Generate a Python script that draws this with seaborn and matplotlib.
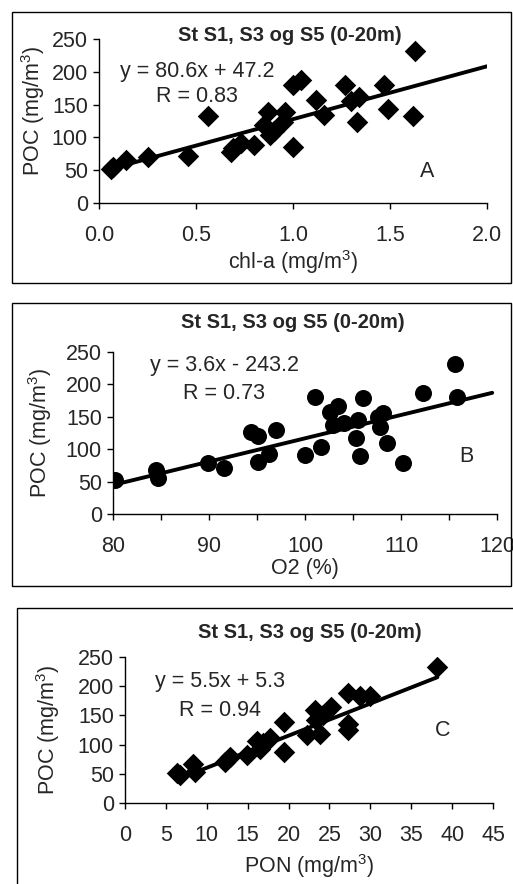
import numpy as np
import pandas as pd
import matplotlib
matplotlib.use("Agg")
import matplotlib.pyplot as plt
from matplotlib.patches import Rectangle
from matplotlib.ticker import MultipleLocator
import seaborn as sns

# ---------------------------
# Data
# ---------------------------
TITLE = "St S1, S3 og S5 (0-20m)"
POC_LABEL = "POC (mg/m$^3$)"

# Panel A: POC vs chl-a
chla_x = [0.06, 0.07, 0.14, 0.25, 0.46, 0.56, 0.68, 0.69, 0.73, 0.80, 0.85, 0.87,
          0.88, 0.90, 0.95, 0.96, 1.00, 1.00, 1.04, 1.12, 1.16, 1.27, 1.30, 1.33,
          1.34, 1.47, 1.49, 1.62, 1.63]
chla_poc = [52, 55, 66, 70, 72, 132, 77, 84, 91, 89, 119, 139,
            104, 109, 124, 139, 85, 180, 188, 157, 134, 180, 155, 124,
            162, 180, 144, 132, 231]
chla_fit = (80.6, 47.2)
chla_fit_x = [0.06, 2.0]

# Panel B: POC vs O2
o2_x = [80.2, 84.5, 84.7, 89.9, 91.6, 94.4, 95.1, 95.1, 96.3, 97.0, 100.0, 101.0,
        101.7, 102.6, 102.9, 103.4, 104.1, 105.3, 105.5, 105.7, 106.0, 107.6,
        107.8, 108.1, 108.5, 110.2, 112.3, 115.6, 115.8]
o2_poc = [53, 68, 55, 78, 71, 126, 120, 81, 93, 130, 91, 181,
          104, 158, 138, 166, 140, 117, 145, 89, 179, 150,
          135, 156, 110, 78, 187, 232, 180]
o2_fit = (3.6, -243.2)
o2_fit_x = [80.0, 119.5]

# Panel C: POC vs PON
pon_x = [6.3, 6.7, 8.3, 8.5, 12.2, 12.8, 14.9, 16.1, 16.5, 16.9, 17.7, 19.5,
         19.5, 22.2, 23.2, 23.4, 23.8, 24.2, 25.2, 27.3, 27.3, 27.3, 28.7,
         29.9, 38.1]
pon_poc = [52, 48, 66, 53, 70, 79, 82, 107, 93, 102, 111, 139,
           88, 116, 159, 142, 119, 151, 165, 188, 136, 125, 183,
           183, 233]
pon_fit = (5.5, 5.3)
pon_fit_x = [6.3, 38.2]

# ---------------------------
# Style
# ---------------------------
sns.set_theme(style="white")
plt.rcParams["font.family"] = ["Liberation Sans", "DejaVu Sans"]
plt.rcParams["mathtext.fontset"] = "custom"
plt.rcParams["mathtext.rm"] = "Liberation Sans"
plt.rcParams["mathtext.it"] = "Liberation Sans:italic"

FS = 15.5
W, H = 513, 884
fig = plt.figure(figsize=(W / 100, H / 100), dpi=100)


def px_axes(left, right, top, bottom):
    return [left / W, 1 - bottom / H, (right - left) / W, (bottom - top) / H]


def frame(left, right, top, bottom):
    fig.add_artist(Rectangle((left / W, 1 - bottom / H), (right - left) / W,
                             (bottom - top) / H, transform=fig.transFigure,
                             fill=False, edgecolor="black", linewidth=1.0))


def panel(ax, x, y, fit, fit_x, marker, size, xlim, xmajor, xminor, xlabel,
          eq, r_text, eq_pos, r_pos, letter, letter_pos, title_pos, xlab_pos,
          ylab_pos, xfmt):
    df = pd.DataFrame({"x": x, "y": y})
    sns.scatterplot(data=df, x="x", y="y", ax=ax, marker=marker, s=size,
                    color="black", edgecolor="black", linewidth=0, zorder=3)
    fx = np.array(fit_x)
    line = pd.DataFrame({"x": fx, "y": fit[0] * fx + fit[1]})
    sns.lineplot(data=line, x="x", y="y", ax=ax, color="black", linewidth=2.8,
                 zorder=2)
    ax.set_xlim(*xlim)
    ax.set_ylim(0, 250)
    ax.xaxis.set_major_locator(MultipleLocator(xmajor))
    ax.xaxis.set_minor_locator(MultipleLocator(xminor))
    ax.yaxis.set_major_locator(MultipleLocator(50))
    ax.xaxis.set_major_formatter(xfmt)
    for s in ["top", "right"]:
        ax.spines[s].set_visible(False)
    for s in ["left", "bottom"]:
        ax.spines[s].set_linewidth(1.0)
        ax.spines[s].set_color("black")
    ax.tick_params(axis="both", which="both", direction="out", length=4,
                   width=1.0, color="black", labelsize=FS, pad=4,
                   bottom=True, left=True)
    ax.tick_params(axis="x", which="major", pad=12)
    ax.set_xlabel(xlabel, fontsize=FS, va="center", ha="center")
    ax.set_ylabel(POC_LABEL, fontsize=FS, va="center", ha="center")
    ax.xaxis.set_label_coords(*xlab_pos)
    ax.yaxis.set_label_coords(*ylab_pos)
    ax.text(*eq_pos, eq, fontsize=FS, ha="center", va="center")
    ax.text(*r_pos, r_text, fontsize=FS, ha="center", va="center")
    ax.text(*letter_pos, letter, fontsize=FS, ha="center", va="center")
    ax.text(*title_pos, TITLE, transform=ax.transAxes, fontsize=14.5,
            fontweight="bold", ha="center", va="center")
    ax.patch.set_alpha(0)


# Panel A
frame(12, 511, 12, 283)
axA = fig.add_axes(px_axes(99, 487, 39, 203))
panel(axA, chla_x, chla_poc, chla_fit, chla_fit_x, "D", 120, (0, 2.0), 0.5, 0.5,
      "chl-a (mg/m$^3$)", "y = 80.6x + 47.2", "R = 0.83", (0.507, 200),
      (0.507, 162), "A", (1.69, 48), (0.492, 1.02), (0.5, -0.36), (-0.17, 0.56),
      plt.FormatStrFormatter("%.1f"))

# Panel B
frame(12, 511, 303, 586)
axB = fig.add_axes(px_axes(113, 497, 352, 514))
panel(axB, o2_x, o2_poc, o2_fit, o2_fit_x, "o", 150, (80, 120), 10, 5,
      "O2 (%)", "y = 3.6x - 243.2", "R = 0.73", (91.6, 229), (91.6, 186),
      "B", (116.8, 89), (0.469, 1.18), (0.5, -0.335), (-0.19, 0.5),
      plt.FormatStrFormatter("%d"))

# Panel C
frame(17, 520, 608, 890)
axC = fig.add_axes(px_axes(125, 493, 657, 803))
panel(axC, pon_x, pon_poc, pon_fit, pon_fit_x, "D", 120, (0, 45), 5, 5,
      "PON (mg/m$^3$)", "y = 5.5x + 5.3", "R = 0.94", (11.6, 208), (11.6, 159),
      "C", (38.9, 125), (0.503, 1.165), (0.5, -0.43), (-0.21, 0.5),
      plt.FormatStrFormatter("%d"))

fig.savefig("out.png", dpi=100)
